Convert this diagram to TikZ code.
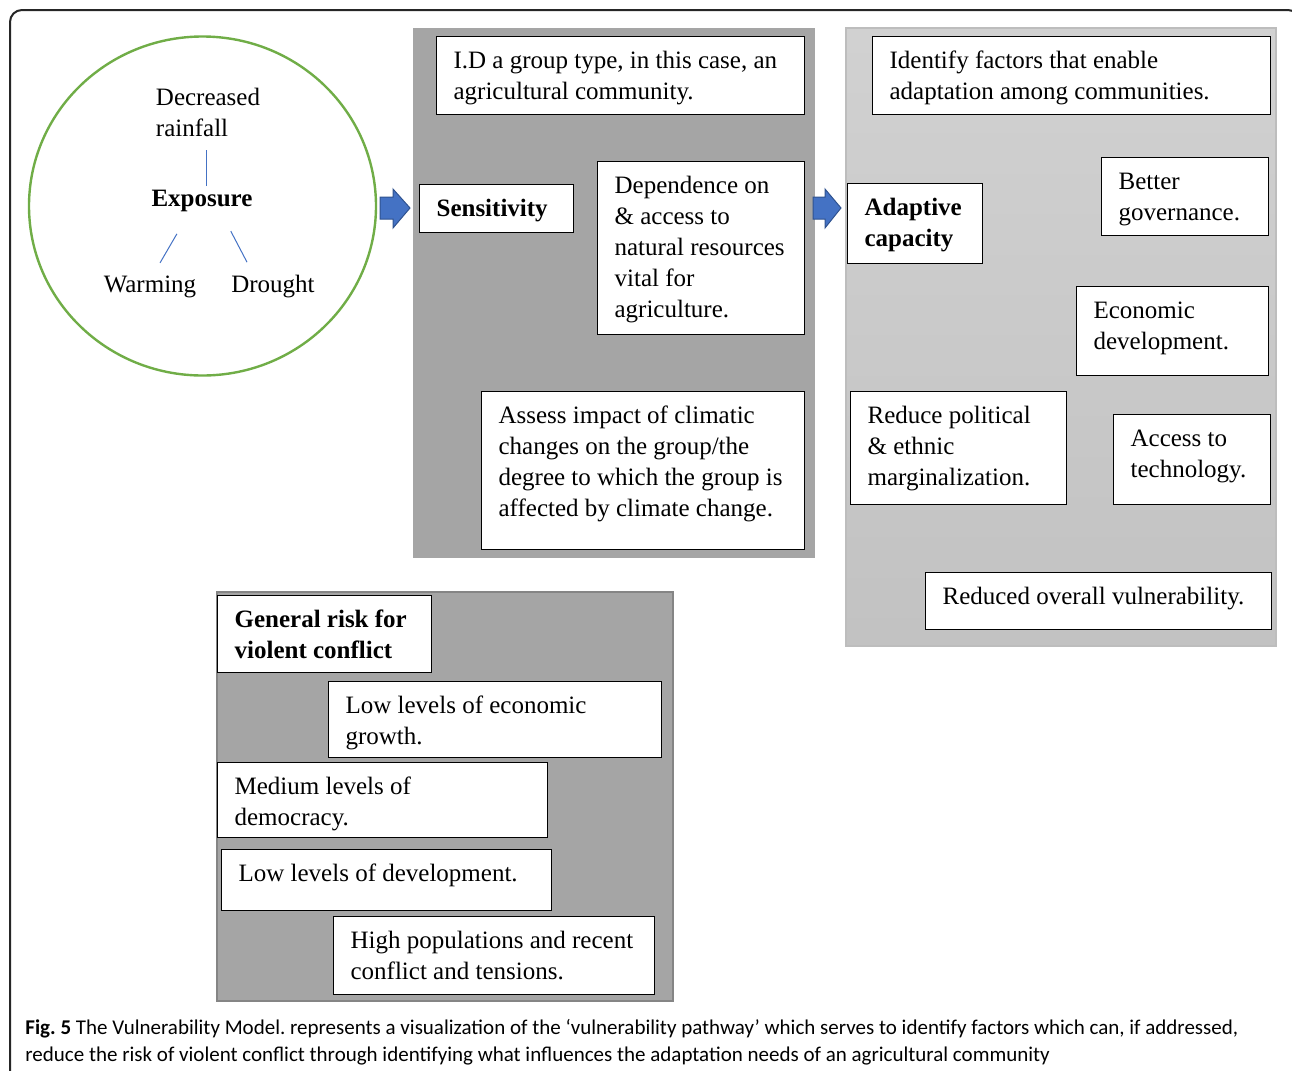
\documentclass[tikz,border=0pt]{standalone}
\usepackage{fontspec}
\setmainfont{Liberation Serif}
\newfontfamily\capfont{Carlito}
\usetikzlibrary{shapes.geometric}
\frenchspacing

\definecolor{panelgray}{HTML}{A5A5A5}
\definecolor{paneledge}{HTML}{858585}
\definecolor{lightedge}{HTML}{BDBDBD}
\definecolor{ringgreen}{HTML}{70AD47}
\definecolor{linkblue}{HTML}{4472C4}
\definecolor{arrowedge}{HTML}{2F528F}

\tikzset{
    txtbox/.style={draw=black, fill=white, line width=0.6pt, anchor=north west,
        align=flush left, inner xsep=8.5pt, inner ysep=0pt, text height=16pt,
        font=\fontsize{12.5}{15.5}\selectfont},
    plain/.style={inner sep=0pt, font=\fontsize{12.5}{15.5}\selectfont},
    link/.style={draw=linkblue, line width=0.5pt},
    blockarrow/.style={fill=linkblue, draw=arrowedge, line width=0.5pt}
}

\begin{document}
\begin{tikzpicture}[x=0.5pt, y=-0.5pt]
            \useasboundingbox (0, 0) rectangle (1292, 1071);
            %\draw[lightgray] (0, 0) grid[step=50] (1292, 1071);

            % frame
            \draw[line width=1pt, black!85, rounded corners=6pt] (10, 1090) -- (10, 10) -- (1300, 10) -- (1300, 1090);

            % exposure
            \node[draw=ringgreen, line width=1.2pt, ellipse, minimum width=173.5pt, minimum height=169.5pt] (ring) at (202.5, 206) {};
            \node[plain, align=flush left] (rain) at (208, 112) {Decreased\\rainfall};
            \node[plain, font=\fontsize{12.5}{15.5}\selectfont\bfseries] (expo) at (202, 201) {Exposure};
            \node[plain] (warm) at (150, 287) {Warming};
            \node[plain] (drought) at (273, 287) {Drought};
            \draw[link, shorten <=7.5pt, shorten >=19pt] ([xshift=2pt]expo.center) -- ([xshift=-1pt]rain.center);
            \draw[link, shorten <=19pt, shorten >=14pt] ([xshift=-3pt]expo.center) -- ([xshift=-2pt]warm.center);
            \draw[link, shorten <=17pt, shorten >=14pt] ([xshift=6.5pt]expo.center) -- ([xshift=-6.5pt]drought.center);

            \draw[blockarrow] (380, 197) -- (393, 197) -- (393, 189) -- (410, 208) -- (393, 228) -- (393, 219) -- (380, 219) -- cycle;

            % sensitivity
            \fill[panelgray] (413, 28) rectangle (815, 558);
            \node[txtbox, text width=167pt, text depth=23pt] (idbox) at (436, 36) {I.D a group type, in this case, an\\agricultural community.};
            \node[txtbox, text width=60pt, text depth=8pt, font=\fontsize{12.5}{15.5}\selectfont\bfseries] (sensbox) at (419, 184) {Sensitivity};
            \node[txtbox, text width=86.5pt, text depth=70.5pt] (depbox) at (597, 161) {Dependence on\\\& access to\\natural resources\\vital for\\agriculture.};
            \node[txtbox, text width=144.5pt, text depth=63pt] (assbox) at (481, 391) {Assess impact of climatic\\changes on the group/the\\degree to which the group is\\affected by climate change.};

            \draw[blockarrow] (813, 197) -- (825, 197) -- (825, 189) -- (841, 208) -- (825, 228) -- (825, 219) -- (813, 219) -- cycle;

            % adaptive capacity
            \shade[top color=black!18, bottom color=black!24] (846, 28) rectangle (1276, 646);
            \draw[lightedge, line width=0.8pt] (846, 28) rectangle (1276, 646);
            \node[txtbox, text width=182pt, text depth=23pt] (identbox) at (872, 36) {Identify factors that enable\\adaptation among communities.};
            \node[txtbox, text width=50.5pt, text depth=24pt, font=\fontsize{12.5}{15.5}\selectfont\bfseries] (adapbox) at (847, 183) {Adaptive\\capacity};
            \node[txtbox, text width=66.5pt, text depth=23pt] (govbox) at (1101, 157) {Better\\governance.};
            \node[txtbox, text width=79pt, text depth=28.5pt] (econbox) at (1076, 286) {Economic\\development.};
            \node[txtbox, text width=91pt, text depth=40.5pt] (polbox) at (850, 391) {Reduce political\\\& ethnic\\marginalization.};
            \node[txtbox, text width=61.5pt, text depth=29pt] (techbox) at (1113, 414) {Access to\\technology.};
            \node[txtbox, text width=156pt, text depth=12.5pt] (vulnbox) at (925, 572) {Reduced overall vulnerability.};

            % risk of conflict
            \filldraw[fill=panelgray, draw=paneledge, line width=1pt] (217, 592) rectangle (673, 1001);
            \node[txtbox, text width=90pt, text depth=22.5pt, font=\fontsize{12.5}{15.5}\selectfont\bfseries] (riskbox) at (217, 595) {General risk for\\violent conflict};
            \node[txtbox, text width=149.5pt, text depth=22pt] (growbox) at (328, 681) {Low levels of economic\\growth.};
            \node[txtbox, text width=148pt, text depth=21.5pt] (demobox) at (217, 762) {Medium levels of\\democracy.};
            \node[txtbox, text width=148pt, text depth=14.5pt] (devbox) at (221, 849) {Low levels of development.};
            \node[txtbox, text width=143.5pt, text depth=23pt] (popbox) at (333, 916) {High populations and recent\\conflict and tensions.};

            % caption
            \node[anchor=north west, align=flush left, inner sep=0pt, font=\capfont\fontsize{10.5}{13.5}\selectfont] (caption) at (25, 1019) {\textbf{Fig. 5} The Vulnerability Model. represents a visualization of the ‘vulnerability pathway’ which serves to identify factors which can, if addressed,\\reduce the risk of violent conflict through identifying what influences the adaptation needs of an agricultural community};
        \end{tikzpicture}
\end{document}
